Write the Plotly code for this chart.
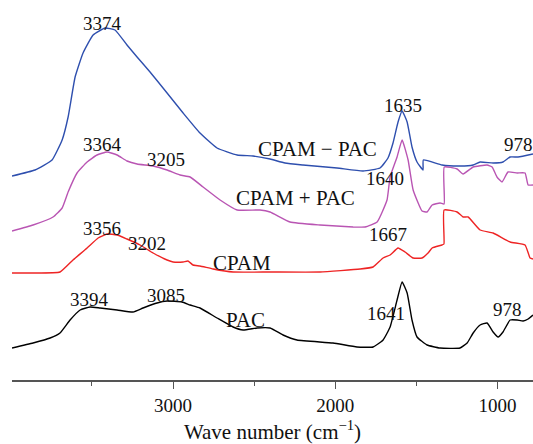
import plotly.graph_objects as go

# Wave numbers (cm^-1) and relative intensity (a.u.)
blue_x = [3993, 3851, 3746, 3684, 3647, 3604, 3555, 3493, 3419, 3358, 3284, 3222, 3142, 3037, 2938, 2834,
          2729, 2605, 2507, 2402, 2310, 2199, 1989, 1829, 1724, 1675, 1644, 1613, 1588, 1557, 1527, 1496,
          1459, 1457, 1342, 1231, 1150, 1107, 1027, 966, 922, 873, 781]
blue_y = [204, 210, 220, 240, 263, 303, 327, 345, 352, 350, 335, 323, 308, 287, 267, 247,
          232, 225, 224, 221, 217, 215, 212, 209, 212, 222, 237, 258, 269, 258, 233, 218,
          210, 220, 215, 214, 215, 218, 217, 218, 223, 223, 226]

mag_x = [3993, 3863, 3740, 3684, 3647, 3592, 3530, 3469, 3407, 3345, 3284, 3222, 3123, 3037, 2957, 2895,
         2815, 2710, 2605, 2464, 2402, 2279, 2094, 1890, 1816, 1742, 1681, 1662, 1619, 1588, 1551, 1520,
         1465, 1434, 1403, 1354, 1329, 1328, 1249, 1212, 1150, 1064, 1033, 1003, 972, 935, 879, 830, 811, 781]
mag_y = [149, 155, 163, 172, 188, 207, 218, 225, 228, 225, 219, 216, 214, 210, 205, 203,
         193, 180, 170, 170, 168, 158, 155, 153, 153, 158, 180, 203, 223, 240, 220, 190,
         169, 168, 175, 177, 176, 213, 211, 206, 213, 215, 213, 203, 198, 208, 207, 207, 195, 195]

red_x = [3993, 3863, 3697, 3617, 3530, 3462, 3407, 3345, 3284, 3203, 3123, 3037, 3000, 2938, 2908, 2877,
         2834, 2753, 2630, 2402, 2094, 1847, 1767, 1705, 1662, 1613, 1570, 1520, 1465, 1428, 1403, 1342,
         1330, 1329, 1249, 1212, 1181, 1107, 1027, 922, 830, 799, 781]
red_y = [107, 107, 108, 120, 132, 142, 146, 145, 141, 135, 127, 120, 118, 118, 119, 115,
         114, 111, 108, 108, 108, 111, 113, 122, 125, 132, 128, 122, 122, 127, 132, 135,
         136, 170, 168, 163, 163, 150, 147, 138, 135, 122, 121]

blk_x = [3993, 3863, 3758, 3697, 3635, 3573, 3512, 3450, 3345, 3247, 3185, 3099, 3037, 2945, 2895, 2834,
         2729, 2630, 2568, 2482, 2402, 2322, 2236, 2014, 1866, 1767, 1705, 1662, 1619, 1588, 1557, 1527,
         1496, 1434, 1354, 1231, 1187, 1150, 1107, 1064, 1027, 996, 966, 922, 879, 842, 811, 781]
blk_y = [32, 37, 42, 47, 60, 70, 73, 72, 70, 68, 72, 77, 79, 78, 75, 72,
         62, 53, 50, 52, 52, 45, 40, 37, 33, 33, 40, 53, 80, 98, 87, 60,
         43, 35, 32, 32, 37, 47, 55, 57, 48, 43, 48, 60, 60, 59, 61, 65]

series = [
    ("CPAM − PAC", blue_x, blue_y, "#2e4fae"),
    ("CPAM + PAC", mag_x, mag_y, "#b955b3"),
    ("CPAM", red_x, red_y, "#ee2424"),
    ("PAC", blk_x, blk_y, "#000000"),
]

# Labels: text, wave number, intensity
label_text = ["3374", "3364", "3205", "CPAM − PAC", "1635", "1640", "978", "CPAM + PAC",
              "3356", "3202", "CPAM", "1667", "3394", "3085", "PAC", "1641", "978"]
label_x = [3438, 3438, 3043, 2112, 1582, 1693, 873, 2248,
           3438, 3160, 2575, 1675, 3518, 3043, 2556, 1687, 941]
label_y = [357, 236, 221, 231, 275, 202, 236, 182,
           152, 137, 117, 146, 81, 85, 60, 67, 71]

FONT = "Liberation Serif, Times New Roman, serif"

fig = go.Figure()
for name, xs, ys, col in series:
    fig.add_trace(go.Scatter(x=xs, y=ys, mode="lines", name=name,
                             line=dict(color=col, width=1.4, shape="spline", smoothing=0.4),
                             showlegend=False, hoverinfo="skip"))

for t, lx, ly in zip(label_text, label_x, label_y):
    size = 19 if t[0].isdigit() else 21
    fig.add_annotation(x=lx, y=ly, text=t, showarrow=False, xanchor="center", yanchor="middle",
                       font=dict(family=FONT, size=size, color="#111111"))

fig.update_layout(
    width=533, height=444,
    margin=dict(l=12, r=0, t=0, b=64),
    paper_bgcolor="white", plot_bgcolor="white",
    font=dict(family=FONT, size=19, color="#111111"),
    xaxis=dict(range=[3993, 781], showgrid=False, zeroline=False,
               showline=True, linecolor="#555555", linewidth=1.5,
               ticks="outside", ticklen=7, tickwidth=1.3, tickcolor="#555555",
               tick0=0, dtick=1000,
               minor=dict(dtick=500, ticks="outside", ticklen=4, tickwidth=1.3, tickcolor="#555555"),
               tickfont=dict(family=FONT, size=19, color="#111111"),
               title=dict(text="Wave number (cm<sup>−1</sup>)", standoff=12,
                          font=dict(family=FONT, size=21, color="#111111"))),
    yaxis=dict(range=[0, 380], visible=False),
)

fig.write_html("out.html")
